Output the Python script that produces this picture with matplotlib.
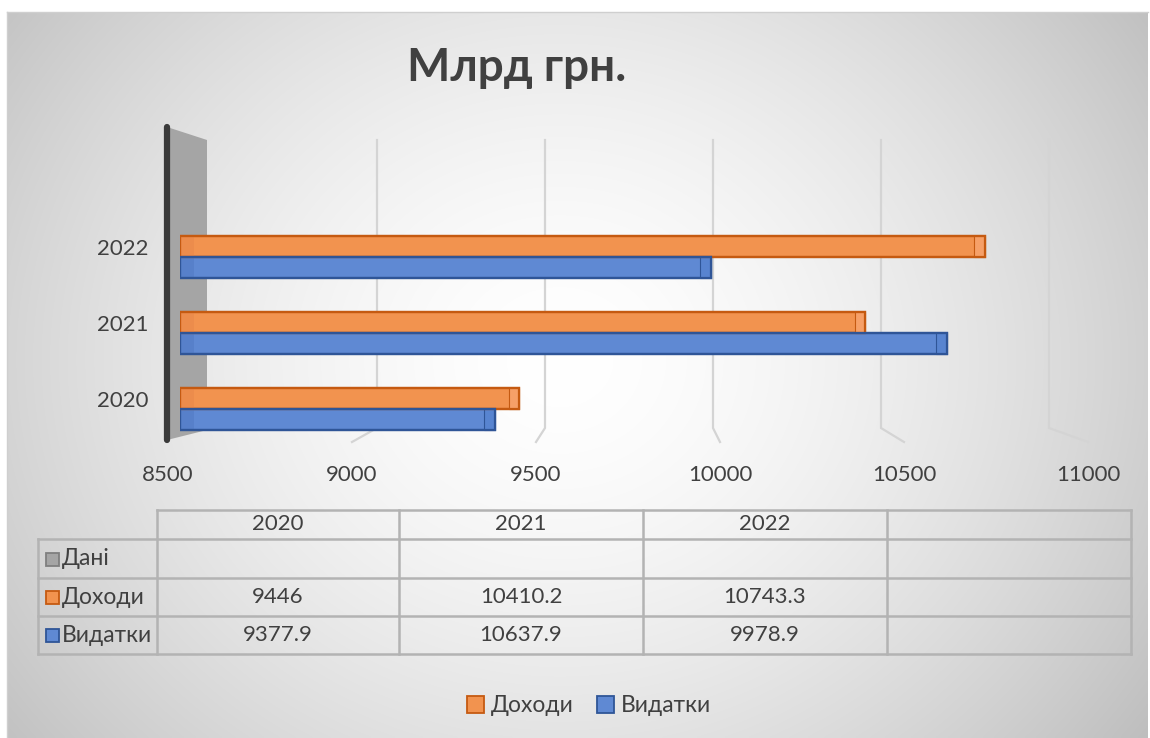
import numpy as np
import matplotlib
matplotlib.use("Agg")
import matplotlib.pyplot as plt
from matplotlib.patches import Polygon, Rectangle, Patch

plt.rcParams['font.family'] = ['Lato', 'Open Sans', 'DejaVu Sans']

# ---------------- data ----------------
years = ["2020", "2021", "2022"]
income = [9446, 10410.2, 10743.3]          # Доходи
expenses = [9377.9, 10637.9, 9978.9]       # Видатки
income_labels = ["9446", "10410.2", "10743.3"]
expense_labels = ["9377.9", "10637.9", "9978.9"]
series_names = ["Дані", "Доходи", "Видатки"]
x_ticks = [8500, 9000, 9500, 10000, 10500, 11000]
title = "Млрд грн."

# ---------------- style ----------------
W, H = 1150, 738
ORANGE = "#F2934F"
ORANGE_E = "#C55A11"
BLUE = "#5F89D3"
BLUE_E = "#2F5597"
GRAYTXT = "#404040"
FS = 16

fig = plt.figure(figsize=(W / 100, H / 100), dpi=100)
fig.patch.set_facecolor("white")

# background overlay axes in pixel units
bg = fig.add_axes([0, 0, 1, 1])
bg.set_xlim(0, W)
bg.set_ylim(H, 0)
bg.axis("off")

# radial gradient chart area
x0, x1, y0, y1 = 7, 1148, 12, 738
gx = np.linspace(x0, x1, 400)
gy = np.linspace(y0, y1, 260)
GX, GY = np.meshgrid(gx, gy)
r = np.sqrt(((GX - 560) / 700) ** 2 + ((GY - 360) / 620) ** 2)
v = 1 - 0.24 * np.clip(r, 0, 1.3) ** 1.6
img = np.dstack([v, v, v])
bg.imshow(img, extent=(x0, x1, y1, y0), aspect="auto", zorder=0, interpolation="bilinear")
bg.plot([x0, x1], [y0, y0], color="#cfcfcf", lw=1, zorder=1)
bg.plot([x0, x0], [y0, y1], color="#cfcfcf", lw=1, zorder=1)

# perspective mapping for grid (back plane / front edge)
def back_x(val):
    return 209 + (val - x_ticks[0]) * 168 / 500

def front_x(val):
    return 168 + (val - x_ticks[0]) * 184 / 500

for t in x_ticks[1:]:
    bx, fx = back_x(t), front_x(t)
    bg.plot([bx, bx, fx], [140, 428, 442], color="#d4d4d4", lw=1.6, zorder=2,
            solid_joinstyle="miter")

# side wall
bg.add_patch(Polygon([(167, 127), (207, 140), (207, 430), (167, 440)],
                     closed=True, facecolor="#a5a5a5", edgecolor="none", zorder=2))
bg.plot([167, 167], [127, 440], color="#3a3a3a", lw=4.5, solid_capstyle="round", zorder=3)

# tick labels (front edge)
for t in x_ticks:
    bg.text(front_x(t), 475, str(t), ha="center", va="center", fontsize=FS, color=GRAYTXT)

# title
bg.text(517, 68, title, ha="center", va="center", fontsize=33, fontweight="bold", color=GRAYTXT)

# ---------------- bars ----------------
ax = fig.add_axes([180 / W, 1 - 442 / H, (1077 - 180) / W, (442 - 127) / H])
ax.patch.set_visible(False)
for s in ax.spines.values():
    s.set_visible(False)
ax.set_xlim(x_ticks[0], x_ticks[-1])
ax.set_ylim(-33 / 76, 282 / 76)
ax.set_xticks([])
ax.set_yticks([])

y = np.arange(len(years))
bh = 21 / 76
ax.barh(y + bh / 2, np.array(income) - x_ticks[0], left=x_ticks[0], height=bh,
        color=ORANGE, edgecolor=ORANGE_E, linewidth=1.6, zorder=3)
ax.barh(y - bh / 2, np.array(expenses) - x_ticks[0], left=x_ticks[0], height=bh,
        color=BLUE, edgecolor=BLUE_E, linewidth=1.6, zorder=3)
# left shading near the wall (perspective)
sh = 40
ax.barh(y + bh / 2, sh, left=x_ticks[0], height=bh, color="#E8864A", edgecolor="none",
        alpha=0.5, zorder=3.5)
ax.barh(y - bh / 2, sh, left=x_ticks[0], height=bh, color="#5079C2", edgecolor="none",
        alpha=0.5, zorder=3.5)
# end caps (3-D end faces)
cap = 30
ax.barh(y + bh / 2, cap, left=np.array(income) - cap, height=bh,
        color="#F6A068", edgecolor=ORANGE_E, linewidth=0.8, zorder=4)
ax.barh(y - bh / 2, cap, left=np.array(expenses) - cap, height=bh,
        color="#5884D0", edgecolor=BLUE_E, linewidth=0.8, zorder=4)
# redraw outlines on top
ax.barh(y + bh / 2, np.array(income) - x_ticks[0], left=x_ticks[0], height=bh,
        color="none", edgecolor=ORANGE_E, linewidth=1.6, zorder=5)
ax.barh(y - bh / 2, np.array(expenses) - x_ticks[0], left=x_ticks[0], height=bh,
        color="none", edgecolor=BLUE_E, linewidth=1.6, zorder=5)

for yi, lab in zip(y, years):
    ax.text(-0.035, yi + 0.11, lab, transform=ax.get_yaxis_transform(), ha="right", va="center",
            fontsize=FS, color=GRAYTXT)

# ---------------- data table ----------------
col_x = [38, 157, 399, 643, 887, 1131]
row_y = [510, 539, 578, 616, 654]
LC = "#b3b3b3"
bg.plot([col_x[1], col_x[-1]], [row_y[0], row_y[0]], color=LC, lw=1.8, zorder=2)
for ry in row_y[1:]:
    bg.plot([col_x[0], col_x[-1]], [ry, ry], color=LC, lw=1.8, zorder=2)
bg.plot([col_x[0], col_x[0]], [row_y[1], row_y[-1]], color=LC, lw=1.8, zorder=2)
for cx in col_x[1:]:
    bg.plot([cx, cx], [row_y[0], row_y[-1]], color=LC, lw=1.8, zorder=2)

def cell_center(ci, ri):
    return (col_x[ci] + col_x[ci + 1]) / 2, (row_y[ri] + row_y[ri + 1]) / 2

for i, yr in enumerate(years):
    cx, cy = cell_center(i + 1, 0)
    bg.text(cx, cy, yr, ha="center", va="center", fontsize=FS, color=GRAYTXT)
for i, lab in enumerate(income_labels):
    cx, cy = cell_center(i + 1, 2)
    bg.text(cx, cy, lab, ha="center", va="center", fontsize=FS, color=GRAYTXT)
for i, lab in enumerate(expense_labels):
    cx, cy = cell_center(i + 1, 3)
    bg.text(cx, cy, lab, ha="center", va="center", fontsize=FS, color=GRAYTXT)

marker_cols = [("#a5a5a5", "#7f7f7f"), (ORANGE, ORANGE_E), (BLUE, BLUE_E)]
for ri, (name, (fc, ec)) in enumerate(zip(series_names, marker_cols)):
    _, cy = cell_center(0, ri + 1)
    bg.add_patch(Rectangle((46, cy - 6), 13, 13, facecolor=fc, edgecolor=ec, lw=1.3, zorder=3))
    bg.text(62, cy, name, ha="left", va="center", fontsize=FS + 0.5, color=GRAYTXT)

# ---------------- legend ----------------
handles = [Patch(facecolor=ORANGE, edgecolor=ORANGE_E, lw=1.3, label=series_names[1]),
           Patch(facecolor=BLUE, edgecolor=BLUE_E, lw=1.3, label=series_names[2])]
leg = fig.legend(handles=handles, loc="center", bbox_to_anchor=(589 / W, 1 - 706 / H), ncol=2,
                 frameon=False, fontsize=FS + 0.5, handlelength=0.75, handleheight=0.75,
                 handletextpad=0.3, columnspacing=1.0)
for t in leg.get_texts():
    t.set_color(GRAYTXT)

fig.savefig("out.png", dpi=100)
